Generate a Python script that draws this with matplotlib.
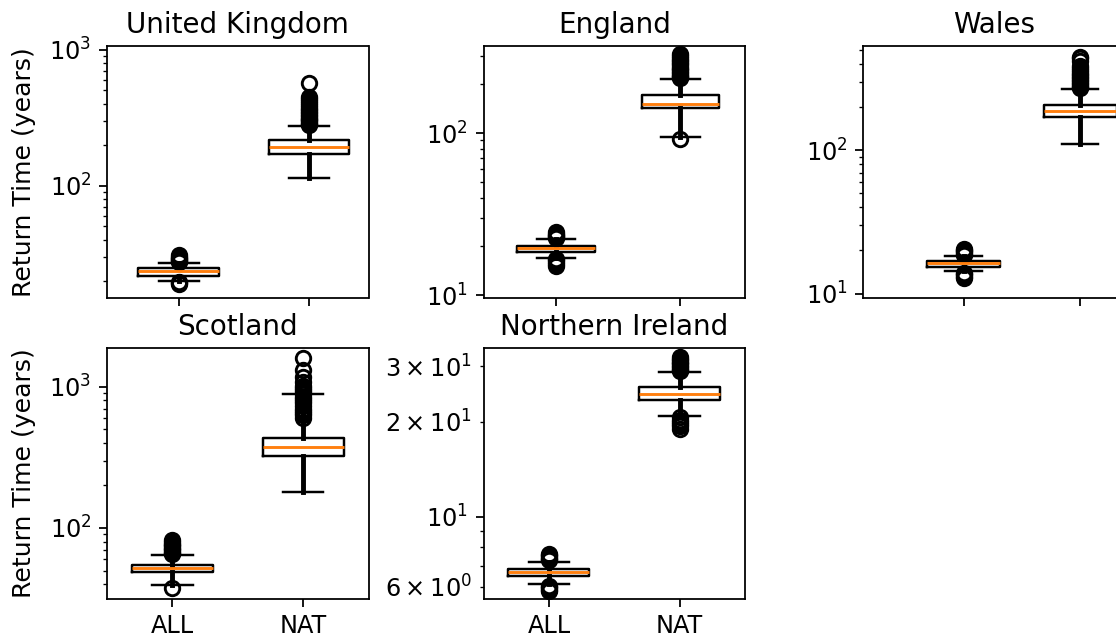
import matplotlib
matplotlib.use("Agg")
import matplotlib.pyplot as plt

regions = ["United Kingdom", "England", "Wales", "Scotland", "Northern Ireland"]
labels = ["ALL", "NAT"]

# box stats: [whislo, q1, med, q3, whishi]
uk_all = [19.8, 21.8, 23.4, 24.8, 27.0]
uk_nat = [114.5, 171, 192, 216, 275]
eng_all = [17.0, 18.4, 19.5, 20.1, 22.1]
eng_nat = [94.8, 142, 152, 171, 214]
wal_all = [14.3, 15.4, 16.3, 16.9, 18.3]
wal_nat = [111.4, 170, 188, 208, 267]
sco_all = [39.6, 48.6, 52.2, 55.1, 64.8]
sco_nat = [181, 324, 371, 435, 883]
ni_all = [6.12, 6.50, 6.67, 6.81, 7.20]
ni_nat = [20.8, 23.4, 24.5, 25.7, 28.7]

# outliers (estimated)
uk_all_fl = [27.4, 27.9, 28.4, 28.9, 29.4, 30.0, 30.6, 19.6, 19.2, 18.9]
uk_nat_fl = [278, 284, 290, 296, 302, 309, 316, 323, 331, 339, 348, 357, 367,
             378, 390, 403, 417, 432, 449, 569]
eng_all_fl = [22.4, 22.8, 23.2, 23.6, 24.0, 24.5, 16.8, 16.4, 16.0, 15.6, 15.2]
eng_nat_fl = [217, 221, 225, 229, 233, 238, 243, 248, 253, 259, 265, 271, 277,
              284, 291, 298, 305, 92.2]
wal_all_fl = [18.6, 19.0, 19.4, 19.8, 20.2, 20.5, 14.0, 13.7, 13.4, 13.1, 12.8]
wal_nat_fl = [271, 277, 283, 289, 296, 303, 310, 318, 326, 335, 344, 354, 365,
              376, 388, 420, 441, 452]
sco_all_fl = [65.5, 66.8, 68.1, 69.5, 71, 72.5, 74, 75.5, 77, 79, 81.8, 37.7]
sco_nat_fl = [600, 625, 650, 675, 700, 730, 760, 790, 820, 850, 880, 910, 940,
              975, 1010, 1084, 1175, 1309, 1585]
ni_all_fl = [7.28, 7.35, 7.42, 7.5, 7.57, 7.64, 6.05, 5.99, 5.93, 5.87, 5.81]
ni_nat_fl = [28.9, 29.2, 29.5, 29.8, 30.1, 30.4, 30.7, 31.0, 31.3, 31.6, 32.0,
             20.7, 20.3, 20.0, 19.7, 19.4, 19.0]

boxes = [(uk_all, uk_all_fl, uk_nat, uk_nat_fl),
         (eng_all, eng_all_fl, eng_nat, eng_nat_fl),
         (wal_all, wal_all_fl, wal_nat, wal_nat_fl),
         (sco_all, sco_all_fl, sco_nat, sco_nat_fl),
         (ni_all, ni_all_fl, ni_nat, ni_nat_fl)]

ylims = [(14.9, 1062), (9.62, 344), (9.31, 536), (31.7, 1867), (5.51, 34.2)]
xlims = [(0.448, 2.459), (0.418, 2.518), (0.139, 2.378), (0.5, 2.5), (0.5, 2.5)]


def make_stats(s, fl, label):
    return dict(whislo=s[0], q1=s[1], med=s[2], q3=s[3], whishi=s[4],
                fliers=fl, label=label)


W, H = 1116, 639
fig = plt.figure(figsize=(W / 160, H / 160), dpi=160)

col_left = [107, 483.5, 863]
ax_w = 261.5
rows = [(46, 298), (348.3, 598.5)]

for i, name in enumerate(regions):
    r, c = divmod(i, 3)
    top, bot = rows[r]
    ax = fig.add_axes([col_left[c] / W, (H - bot) / H, ax_w / W, (bot - top) / H])
    ax.set_yscale("log")
    a, afl, n, nfl = boxes[i]
    stats = [make_stats(a, afl, labels[0]), make_stats(n, nfl, labels[1])]
    ax.bxp(stats, positions=[1, 2], widths=0.62,
           boxprops=dict(linewidth=1.1),
           whiskerprops=dict(linewidth=2.2),
           capprops=dict(linewidth=1.1),
           flierprops=dict(marker="o", markerfacecolor="none",
                           markeredgecolor="black", markersize=6.5,
                           markeredgewidth=1.3),
           medianprops=dict(color="C1", linewidth=1.3))
    ax.set_xlim(*xlims[i])
    ax.set_ylim(*ylims[i])
    ax.set_title(name, fontsize=12.5)
    ax.tick_params(labelsize=10.8)
    ax.tick_params(which="minor", labelsize=10.8)
    if r == 0:
        ax.tick_params(labelbottom=False)
    if c == 0:
        ax.set_ylabel("Return Time (years)", fontsize=11.3, labelpad=6)

fig.savefig("out.png", dpi=160)
